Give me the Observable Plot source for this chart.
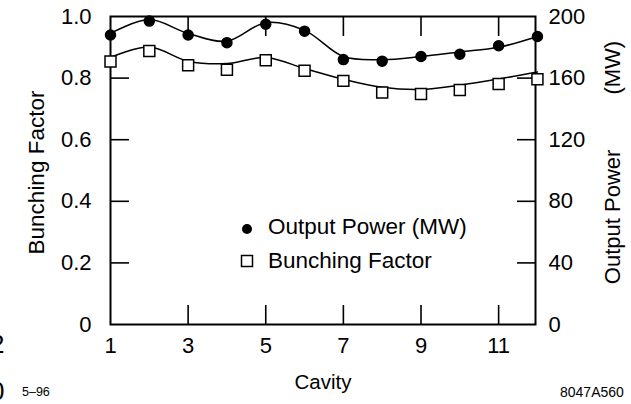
<!DOCTYPE html>
<html>
<head>
<meta charset="utf-8">
<script src="https://cdn.jsdelivr.net/npm/d3@7"></script>
<script src="https://cdn.jsdelivr.net/npm/@observablehq/plot@0.6"></script>
<style>
  html, body { margin: 0; padding: 0; background: white; }
  #wrap { position: relative; width: 631px; height: 404px; overflow: hidden; font-family: "Liberation Sans", Arial, Helvetica, sans-serif; color: black; }
  .ov { position: absolute; white-space: pre; line-height: 1; }
</style>
</head>
<body>
<div id="wrap"></div>
<script>
// ---- data ----
const cavity = [1, 2, 3, 4, 5, 6, 7, 8, 9, 10, 11, 12];
const powerMW = [188, 197, 188, 183, 195, 190.5, 172, 171, 174, 175.5, 181, 187];
const bunching = [0.854, 0.888, 0.842, 0.827, 0.858, 0.824, 0.791, 0.753, 0.748, 0.761, 0.781, 0.796];
const powerFitMW = [189, 198, 189, 184, 196, 191, 174, 172, 174, 177, 180, 187];
const bunchingFit = [0.867, 0.901, 0.855, 0.847, 0.867, 0.831, 0.796, 0.770, 0.763, 0.777, 0.797, 0.820];

const xTickLabels = [1, 3, 5, 7, 9, 11];
const xInnerTicks = [3, 5, 7, 9, 11];
const leftTickLabels = [0, 0.2, 0.4, 0.6, 0.8, 1.0];
const innerYTicks = [0.2, 0.4, 0.6, 0.8];
const rightTickMW = [0, 40, 80, 120, 160, 200];
const powerMax = 200;

const legendLabels = ["Output Power (MW)", "Bunching Factor"];
const xTitle = "Cavity";
const yLeftTitle = "Bunching Factor";
const yRightTitle = "Output Power" + "\u00a0".repeat(9) + "(MW)";
const dateNote = "5\u201396";
const figId = "8047A560";

const rows = cavity.map((c, i) => ({
  cavity: c, power: powerMW[i], bunching: bunching[i],
  powerFit: powerFitMW[i], bunchingFit: bunchingFit[i]
}));

const font = "'Liberation Sans', Arial, Helvetica, sans-serif";

const chart = Plot.plot({
  width: 631,
  height: 404,
  marginLeft: 110,
  marginRight: 96,
  marginTop: 16,
  marginBottom: 80,
  style: { fontFamily: font, fontSize: "22px", color: "black", background: "white", overflow: "visible" },
  x: { domain: [1, 11.95], axis: null },
  y: { domain: [0, 1], axis: null },
  marks: [
    // inward ticks
    Plot.axisX(xInnerTicks, { anchor: "bottom", tickSize: -19, fill: "none", label: null, strokeWidth: 1.6 }),
    Plot.axisX(xInnerTicks, { anchor: "top", tickSize: -19, fill: "none", label: null, strokeWidth: 1.6 }),
    Plot.axisY(innerYTicks, { anchor: "left", tickSize: -19, fill: "none", label: null, strokeWidth: 1.6 }),
    Plot.axisY(innerYTicks, { anchor: "right", tickSize: -19, fill: "none", label: null, strokeWidth: 1.6 }),
    // tick labels
    Plot.axisX(xTickLabels, { anchor: "bottom", tickSize: 0, tickPadding: 13, fontSize: 22, label: null }),
    Plot.axisY(leftTickLabels, { anchor: "left", tickSize: 0, tickPadding: 19, fontSize: 22,
      tickFormat: d => d === 0 ? "0" : d3.format(".1f")(d), label: null }),
    Plot.axisY(rightTickMW.map(v => v / powerMax), { anchor: "right", tickSize: 0, tickPadding: 13, fontSize: 22,
      tickFormat: d => String(Math.round(d * powerMax)), label: null }),
    // axis titles
    Plot.text([xTitle], { frameAnchor: "bottom", dy: 58, fontSize: 20.5, lineAnchor: "middle", textAnchor: "middle", fill: "black" }),
    Plot.text([yLeftTitle], { frameAnchor: "left", dx: -74, dy: 2, rotate: -90, fontSize: 22.5, lineAnchor: "middle", textAnchor: "middle", fill: "black" }),
    Plot.text([yRightTitle], { frameAnchor: "right", dx: 77, dy: -8, rotate: -90, fontSize: 22, lineAnchor: "middle", textAnchor: "middle", fill: "black" }),
    Plot.frame({ stroke: "black", strokeWidth: 2 }),
    // fitted curves
    Plot.line(rows, { x: "cavity", y: d => d.powerFit / powerMax, curve: "catmull-rom", stroke: "black", strokeWidth: 1.5 }),
    Plot.line(rows, { x: "cavity", y: "bunchingFit", curve: "catmull-rom", stroke: "black", strokeWidth: 1.5 }),
    // data points
    Plot.dot(rows, { x: "cavity", y: d => d.power / powerMax, r: 5, fill: "black", stroke: "black" }),
    Plot.dot(rows, { x: "cavity", y: "bunching", symbol: "square", r: 6.2, fill: "white", stroke: "black", strokeWidth: 1.5 })
  ]
});

const wrap = document.getElementById("wrap");
wrap.appendChild(chart);

function addText(txt, left, top, size, extra = "") {
  const s = document.createElement("div");
  s.className = "ov";
  s.textContent = txt;
  s.style.cssText = `left:${left}px;top:${top}px;font-size:${size}px;${extra}`;
  wrap.appendChild(s);
  return s;
}

// legend (inside the frame)
const legSvg = document.createElementNS("http://www.w3.org/2000/svg", "svg");
legSvg.setAttribute("width", "20");
legSvg.setAttribute("height", "50");
legSvg.style.cssText = "position:absolute;left:237px;top:218px;overflow:visible";
legSvg.innerHTML = `<circle cx="10" cy="11" r="5" fill="black"/>
  <rect x="4.5" y="37.5" width="11" height="11" fill="white" stroke="black" stroke-width="1.5"/>`;
wrap.appendChild(legSvg);
addText(legendLabels[0], 268, 216, 22.5);
addText(legendLabels[1], 268, 250, 22.5);

// footer notes
addText(dateNote, 22, 386, 12.5);
addText(figId, 560, 385, 14);

// cut-off glyphs at left page edge (as in the reference)
addText("2", -10, 331, 26);
addText("0", -10, 378, 26);
</script>
</body>
</html>
